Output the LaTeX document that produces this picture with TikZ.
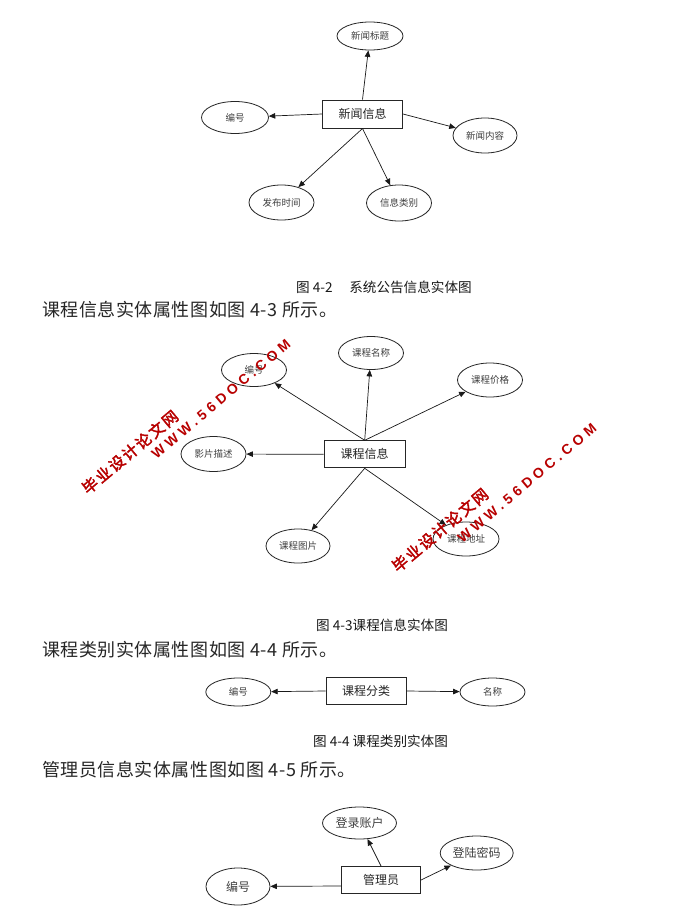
\documentclass[tikz,border=0pt]{standalone}
\usepackage{fontspec}
\newfontfamily\cjk{Noto Sans CJK SC}
\newfontfamily\cjkpara[LetterSpace=3]{Noto Sans CJK SC}
\newfontfamily\cjkwm[FakeBold=2.5,LetterSpace=12]{Noto Sans CJK SC}
\newfontfamily\wmlat[LetterSpace=30]{Liberation Sans}
\usetikzlibrary{arrows.meta,shapes.geometric}
\tikzset{
  attr/.style={ellipse, draw=black!85, line width=0.8pt, minimum width=65pt, minimum height=34pt,
    inner sep=0pt, font=\cjk\fontsize{9.5}{10}\selectfont, text=black!75},
  bigattr/.style={attr, font=\cjk\fontsize{12}{13}\selectfont},
  ent/.style={rectangle, draw=black!85, line width=1pt, minimum width=80pt, minimum height=27pt,
    inner sep=0pt, font=\cjk\fontsize{12}{13}\selectfont, text=black!85},
  link/.style={draw=black!90, line width=0.7pt, -{Triangle[length=6.5pt,width=5.5pt]}},
  figcap/.style={anchor=west, inner sep=0pt, font=\cjk\fontsize{13.6}{14}\selectfont, text=black!90},
  para/.style={anchor=west, inner sep=0pt, font=\cjkpara\fontsize{18}{19}\selectfont, text=black!85},
  wmcn/.style={text=red!72!black, font=\cjkwm\fontsize{15.5}{16}\selectfont, rotate=40, inner sep=0pt},
  wmen/.style={text=red!72!black, font=\wmlat\bfseries\fontsize{14}{14}\selectfont, rotate=40, inner sep=0pt},
}
\begin{document}
\begin{tikzpicture}[x=1pt,y=-1pt]
\useasboundingbox[fill=white] (0,0) rectangle (680,924);

% ---------- Figure 4-2 ----------
\node[ent, minimum height=28pt] (r1) at (362.5,114) {新闻信息};
\node[attr, minimum width=66pt, minimum height=28pt] (e11) at (370,36) {新闻标题};
\node[attr, minimum width=67pt, minimum height=32pt] (e12) at (235,117.5) {编号};
\node[attr, minimum width=64pt, minimum height=35pt] (e13) at (485,135.5) {新闻内容};
\node[attr, minimum height=35pt] (e14) at (281.5,202.5) {发布时间};
\node[attr, minimum height=36pt] (e15) at (399,203) {信息类别};
\draw[link] (r1.north) -- (e11);
\draw[link] (r1.west) -- (e12);
\draw[link] (r1.east) -- (e13);
\draw[link] (r1.south) -- (e14);
\draw[link] (r1.south) -- (e15);
\node[figcap] (c1) at (296,287) {图 4-2\quad\ 系统公告信息实体图};

\node[para] (p1) at (42,310) {课程信息实体属性图如图 4-3 所示。};

% ---------- Figure 4-3 ----------
\node[ent, minimum width=81pt] (r2) at (364.7,454.3) {课程信息};
\node[attr, minimum height=33pt] (e21) at (254,370) {编号};
\node[attr, minimum height=33pt] (e22) at (371,353) {课程名称};
\node[attr] (e23) at (490,380) {课程价格};
\node[attr, minimum height=35pt] (e24) at (213.5,454) {影片描述};
\node[attr, minimum width=64pt] (e25) at (298,546) {课程图片};
\node[attr, minimum width=66pt] (e26) at (466,539) {课程地址};
\draw[link] (r2.north) -- (e21);
\draw[link] (r2.north) -- (e22);
\draw[link] (r2.north) -- (e23);
\draw[link] (r2.west) -- (e24);
\draw[link] (r2.south) -- (e25);
\draw[link] (r2.south) -- (e26);
\node[figcap] (c2) at (316,625) {图 4-3课程信息实体图};

\node[para] (p2) at (42,650) {课程类别实体属性图如图 4-4 所示。};

% ---------- Figure 4-4 ----------
\node[ent] (r3) at (366,691) {课程分类};
\node[attr, minimum height=28pt] (e31) at (238.3,692) {编号};
\node[attr, minimum height=28pt] (e32) at (492.5,692) {名称};
\draw[link] (r3.west) -- (e31);
\draw[link] (r3.east) -- (e32);
\node[figcap] (c3) at (313,741.5) {图 4-4 课程类别实体图};

\node[para] (p3) at (42,770) {管理员信息实体属性图如图 4-5 所示。};

% ---------- Figure 4-5 ----------
\node[ent, minimum width=79pt] (r4) at (381,880) {管理员};
\node[bigattr, minimum width=74pt, minimum height=32pt] (e41) at (359.5,823) {登录账户};
\node[bigattr, minimum width=73pt, minimum height=34pt] (e42) at (476.7,853) {登陆密码};
\node[bigattr, minimum width=64pt, minimum height=37pt] (e43) at (238,886.5) {编号};
\draw[link] (r4.north) -- (e41);
\draw[link] (r4.east) -- (e42);
\draw[link] ([yshift=-6pt]r4.west) -- (e43);

% ---------- watermarks ----------
\node[wmcn] (w1a) at (130,452) {毕业设计论文网};
\node[wmen] (w1b) at (221,399) {WWW.56DOC.COM};
\node[wmcn] (w2a) at (440,530) {毕业设计论文网};
\node[wmen] (w2b) at (527,483) {WWW.56DOC.COM};
\end{tikzpicture}
\end{document}
